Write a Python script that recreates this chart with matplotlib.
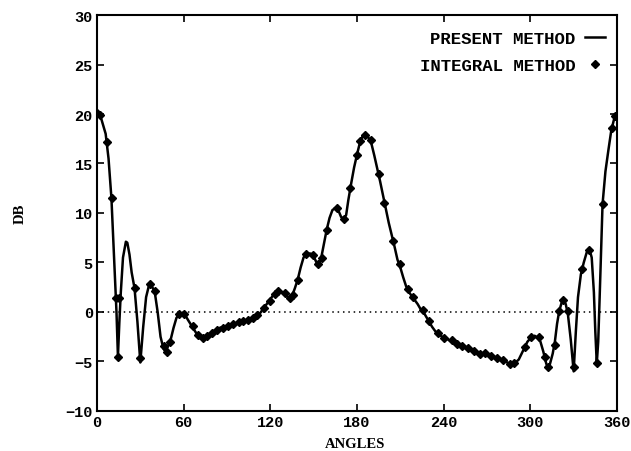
import matplotlib
matplotlib.use("Agg")
import matplotlib.pyplot as plt

# present method curve
ang_curve = [0, 3, 6, 8, 10, 12, 13.5, 14.5, 15.5, 16.5, 18, 20, 21, 22.5, 24, 26, 28, 30,
             32, 34, 36, 38, 40, 42, 44, 46, 47.5, 49, 51, 53, 55, 57, 59, 61, 63, 66, 69,
             72, 74, 77, 80, 85, 90, 95, 100, 105, 110, 113, 116, 119, 122, 125, 128, 130,
             133, 135, 137, 139, 141, 143, 145, 148, 150, 152, 153.5, 155, 157, 159, 161,
             163, 165, 167, 169, 171, 172.5, 174, 176, 178, 180, 182, 184, 186, 188, 190,
             192, 194, 196, 198, 200, 202, 204, 206, 208, 210, 212, 214, 216, 218, 220,
             222, 224, 226, 228, 230, 232, 234, 236, 240, 245, 250, 255, 260, 265, 270,
             275, 280, 284, 287, 289, 292, 295, 298, 301, 303, 305, 307, 309, 311, 312,
             313.5, 315.5, 317, 318.5, 320, 322, 323, 324.5, 326, 328, 330, 331.5, 333,
             335, 337, 339, 341, 342.5, 344, 345, 346, 347, 348, 350, 352, 354, 356, 358, 360]
db_curve = [20.0, 19.5, 18.0, 15.5, 11.5, 5.0, 0.0, -4.5, -1.0, 2.0, 5.5, 7.1, 7.0, 5.8, 4.0,
            2.4, -1.0, -5.1, -1.5, 1.5, 2.7, 2.6, 2.0, 0.0, -2.5, -3.7, -4.0, -3.5, -2.8,
            -1.6, -0.6, -0.2, -0.1, -0.3, -0.8, -1.5, -2.2, -2.6, -2.6, -2.3, -2.0, -1.6,
            -1.4, -1.2, -1.0, -0.8, -0.4, -0.1, 0.5, 1.1, 1.7, 2.1, 2.0, 1.8, 1.4, 1.6,
            2.4, 3.3, 4.5, 5.5, 5.9, 5.9, 5.6, 5.0, 4.8, 5.3, 6.8, 8.3, 9.5, 10.3, 10.5,
            10.3, 9.6, 9.4, 9.8, 11.3, 13.0, 14.6, 15.9, 17.1, 17.8, 17.9, 17.6, 17.0,
            15.8, 14.5, 13.2, 11.8, 10.4, 9.0, 7.8, 6.6, 5.3, 4.5, 3.5, 2.6, 2.0, 1.6,
            1.2, 0.8, 0.3, 0.0, -0.5, -1.0, -1.5, -1.9, -2.2, -2.6, -2.9, -3.3, -3.6,
            -3.9, -4.2, -4.4, -4.6, -4.8, -5.1, -5.3, -5.2, -4.8, -3.9, -3.0, -2.5, -2.4,
            -2.6, -3.0, -4.0, -5.2, -5.6, -5.3, -4.2, -3.0, -1.2, 0.1, 1.1, 1.2, 0.8,
            -0.2, -2.8, -6.0, -2.0, 1.5, 3.8, 5.0, 6.0, 6.3, 5.5, 2.0, -2.0, -5.2, -3.0,
            1.5, 10.9, 14.2, 16.3, 18.3, 19.5, 20.0]

# integral method points
ang_pts = [0, 2, 7, 10.5, 13.5, 14.3, 15.5, 26.3, 29.8, 36.7, 40.2, 46.4, 48.2, 50.5, 57,
           60, 66.7, 70, 73.2, 76, 79.4, 83, 87.5, 91, 94.4, 98, 101.3, 104.5, 108, 111,
           115.5, 120, 123, 125.5, 130, 133.6, 135.8, 139, 145, 149.6, 153, 155.5, 159,
           166, 171, 175, 179.8, 182, 185.5, 190, 195, 199, 205, 209.5, 215, 219, 225.5,
           230, 236, 240, 245.5, 249, 253, 257, 261, 265, 268.6, 272.5, 276.7, 281, 286,
           289, 296, 300.5, 306, 310, 312, 317, 320, 322.6, 326, 330, 336, 340.7, 346,
           350, 356.3, 358.6]
db_pts = [20.1, 19.9, 17.2, 11.5, 1.4, -4.5, 1.4, 2.4, -4.6, 2.8, 2.1, -3.4, -4.0, -3.0,
          -0.2, -0.2, -1.4, -2.3, -2.6, -2.4, -2.1, -1.8, -1.6, -1.4, -1.2, -1.0, -0.9,
          -0.8, -0.6, -0.3, 0.4, 1.1, 1.8, 2.1, 1.9, 1.4, 1.7, 3.2, 5.9, 5.8, 4.8, 5.5,
          8.3, 10.5, 9.4, 12.5, 15.9, 17.3, 17.9, 17.4, 13.9, 11.0, 7.2, 4.8, 2.3, 1.5,
          0.2, -0.9, -2.1, -2.6, -2.8, -3.2, -3.4, -3.6, -3.9, -4.2, -4.1, -4.4, -4.6,
          -4.8, -5.3, -5.2, -3.5, -2.5, -2.5, -4.5, -5.6, -3.3, 0.1, 1.2, 0.1, -5.6, 4.3,
          6.3, -5.2, 10.9, 18.6, 19.8]

xticks = [0, 60, 120, 180, 240, 300, 360]
yticks = [-10, -5, 0, 5, 10, 15, 20, 25, 30]

plt.rcParams['font.family'] = ['Liberation Mono', 'DejaVu Sans Mono']
plt.rcParams['font.weight'] = 'bold'

fig = plt.figure(figsize=(6.31, 4.52), dpi=100)
ax = fig.add_axes([0.1537, 0.0885, 0.8241, 0.8761])

ax.axhline(0, color="black", linestyle=(0, (1, 2.5)), linewidth=1.1)
ax.plot(ang_curve, db_curve, color="black", linewidth=1.8, label="PRESENT METHOD")
ax.plot(ang_pts, db_pts, linestyle="none", marker="D", markersize=3.8, color="black",
        label="INTEGRAL METHOD")

ax.set_xlim(0, 360)
ax.set_ylim(-10, 30)
ax.set_xticks(xticks)
ax.set_yticks(yticks)
ax.tick_params(direction="in", length=5, width=1.2, top=True, right=True,
               labelsize=11, pad=3)
for s in ax.spines.values():
    s.set_linewidth(1.5)

ax.set_xlabel("ANGLES", fontsize=10.5, fontweight="bold", family="Liberation Serif")
ax.set_ylabel("DB", fontsize=10.5, fontweight="bold", family="Liberation Serif")
ax.xaxis.set_label_coords(0.496, -0.066)
ax.yaxis.set_label_coords(-0.135, 0.5)

ax.legend(loc="upper right", bbox_to_anchor=(1.0, 0.99), frameon=False,
          markerfirst=False, fontsize=12.5, handlelength=1.15, handletextpad=0.55,
          borderaxespad=0.3, labelspacing=0.65)

fig.savefig("out.png", dpi=100)
